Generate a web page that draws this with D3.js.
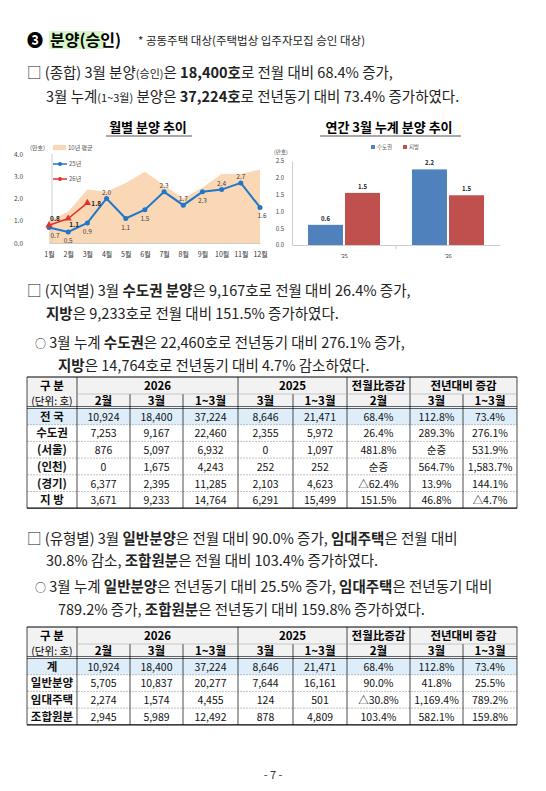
<!DOCTYPE html>
<html><head><meta charset="utf-8">
<script src="https://cdn.jsdelivr.net/npm/d3@7"></script>
<style>body{margin:0;background:#fff}svg{display:block}text{font-family:"Noto Sans CJK KR","Noto Sans",sans-serif}</style>
</head><body><svg id="s" width="546" height="791"></svg>
<script>
const months=["1월","2월","3월","4월","5월","6월","7월","8월","9월","10월","11월","12월"];
const avg10=[1.0,1.4,2.4,2.3,2.7,3.2,2.6,2.0,2.5,3.1,3.1,3.3];
const s25=[0.7,0.5,0.9,2.0,1.1,1.5,2.3,1.7,2.3,2.4,2.7,1.6];
const s26=[0.8,1.1,1.8];
const barYears=["'25","'26"];
const barCapital=[0.6,2.2];
const barLocal=[1.5,1.5];
const barCapH=[0.6,2.25], barLocH=[1.55,1.48];
const colHeads1=["구 분","2026","2025","전월比증감","전년대비 증감"];
const colHeads2=["(단위: 호)","2월","3월","1~3월","3월","1~3월","2월","3월","1~3월"];
const table1=[["전 국","10,924","18,400","37,224","8,646","21,471","68.4%","112.8%","73.4%"],
["수도권","7,253","9,167","22,460","2,355","5,972","26.4%","289.3%","276.1%"],
["(서울)","876","5,097","6,932","0","1,097","481.8%","순증","531.9%"],
["(인천)","0","1,675","4,243","252","252","순증","564.7%","1,583.7%"],
["(경기)","6,377","2,395","11,285","2,103","4,623","△62.4%","13.9%","144.1%"],
["지 방","3,671","9,233","14,764","6,291","15,499","151.5%","46.8%","△4.7%"]];
const table2=[["계","10,924","18,400","37,224","8,646","21,471","68.4%","112.8%","73.4%"],
["일반분양","5,705","10,837","20,277","7,644","16,161","90.0%","41.8%","25.5%"],
["임대주택","2,274","1,574","4,455","124","501","△30.8%","1,169.4%","789.2%"],
["조합원분","2,945","5,989","12,492","878","4,809","103.4%","582.1%","159.8%"]];

const svg=d3.select("#s");
function txt(x,y,t,o={}){const e=svg.append("text").attr("x",x).attr("y",y).attr("font-size",o.fs||14).attr("fill",o.fill||"#222").attr("text-anchor",o.a||"start");if(o.b)e.attr("font-weight","bold");e.html(t);return e;}

svg.append("rect").attr("x",49).attr("y",31).attr("width",55).attr("height",18).attr("fill","#d6f5c8");
txt(27,46,"❸",{fs:16,b:1,fill:"#000"});
txt(50,46,"분양(승인)",{fs:16,b:1,fill:"#000"});
txt(138,45,"* 공동주택 대상(주택법상 입주자모집 승인 대상)",{fs:11.5});
const P=14.5;
txt(27,78,'□ (종합) 3월 분양<tspan font-size="11">(승인)</tspan>은 <tspan font-weight="bold">18,400호</tspan>로 전월 대비 68.4% 증가,',{fs:P});
txt(46,102,'3월 누계<tspan font-size="11">(1~3월)</tspan> 분양은 <tspan font-weight="bold">37,224호</tspan>로 전년동기 대비 73.4% 증가하였다.',{fs:P});

txt(148,132,"월별 분양 추이",{fs:13,b:1,a:"middle",fill:"#000"});
svg.append("line").attr("x1",106).attr("x2",192).attr("y1",136).attr("y2",136).attr("stroke","#555");
const x=d3.scalePoint().domain(months).range([49,260]);
const y=d3.scaleLinear().domain([0,4]).range([243,154]);
svg.append("path").datum(avg10).attr("fill","#fad7b5").attr("d",d3.area().x((d,i)=>x(months[i])).y0(y(0)).y1(d=>y(d)));
const ya=svg.append("g").attr("transform","translate(49,0)").call(d3.axisLeft(y).tickValues([0,1,2,3,4]).tickFormat(d3.format(".1f")).tickSize(0).tickPadding(26));
ya.select(".domain").remove();ya.selectAll("text").attr("font-size",6.5).attr("fill","#444");
svg.append("line").attr("x1",52).attr("x2",52).attr("y1",154).attr("y2",243).attr("stroke","#ccc");
const xa=svg.append("g").attr("transform","translate(0,243)").call(d3.axisBottom(x).tickSize(0).tickPadding(9));
xa.select(".domain").attr("stroke","#ccc");xa.selectAll("text").attr("font-size",7).attr("fill","#333");
const ln=d3.line().x((d,i)=>x(months[i])).y(d=>y(d));
svg.append("path").datum(s25).attr("fill","none").attr("stroke","#1f77c9").attr("stroke-width",2).attr("d",ln);
svg.selectAll(".p25").data(s25).join("circle").attr("cx",(d,i)=>x(months[i])).attr("cy",d=>y(d)).attr("r",2.5).attr("fill","#1f77c9");
svg.append("path").datum(s26).attr("fill","none").attr("stroke","#e8302a").attr("stroke-width",1.5).attr("d",ln);
svg.selectAll(".p26").data(s26).join("path").attr("d",d3.symbol(d3.symbolTriangle,22)).attr("transform",(d,i)=>`translate(${x(months[i])},${y(d)})`).attr("fill","#e8302a");
const lblBelow=[1,1,1,0,1,1,0,0,1,0,0,1];
s25.forEach((d,i)=>txt(x(months[i])+(i==0?6:i==11?2:0),y(d)+(lblBelow[i]?11:-4),d.toFixed(1),{fs:6.5,a:"middle",fill:"#444"}));
s26.forEach((d,i)=>txt(x(months[i])+(i==2?4:6),y(d)+(i==2?3:i==1?8:-4),d.toFixed(1),{fs:6.5,b:1,a:i==2?"start":"middle",fill:"#222"}));
txt(30,150,"(만호)",{fs:6,fill:"#555"});
svg.append("rect").attr("x",53).attr("y",145).attr("width",13).attr("height",5).attr("fill","#fad7b5");
txt(68,150,"10년 평균",{fs:6,fill:"#555"});
[["25년","#1f77c9",164],["26년","#e8302a",179]].forEach(([t,c,yy])=>{svg.append("line").attr("x1",53).attr("x2",67).attr("y1",yy).attr("y2",yy).attr("stroke",c).attr("stroke-width",1.5);svg.append("circle").attr("cx",60).attr("cy",yy).attr("r",2).attr("fill",c);txt(69,yy+2,t,{fs:6,fill:"#555"});});

txt(389,132,"연간 3월 누계 분양 추이",{fs:13,b:1,a:"middle",fill:"#000"});
svg.append("line").attr("x1",320).attr("x2",461).attr("y1",136).attr("y2",136).attr("stroke","#555");
const bx=d3.scaleBand().domain(barYears).range([292,500]);
const by=d3.scaleLinear().domain([0,2.5]).range([245,161]);
const byA=svg.append("g").attr("transform","translate(292,0)").call(d3.axisLeft(by).tickValues([0,0.5,1,1.5,2,2.5]).tickFormat(d3.format(".1f")).tickSize(0).tickPadding(8));
byA.select(".domain").attr("stroke","#ccc");byA.selectAll("text").attr("font-size",6).attr("fill","#444");
const bxA=svg.append("g").attr("transform","translate(0,245)").call(d3.axisBottom(bx).tickSize(0).tickPadding(9));
bxA.select(".domain").attr("stroke","#ccc");bxA.selectAll("text").attr("font-size",5.5).attr("fill","#444");
svg.append("line").attr("x1",396).attr("x2",396).attr("y1",245).attr("y2",249).attr("stroke","#ccc");
const bw=35;
barYears.forEach((yr,i)=>{const c=bx(yr)+bx.bandwidth()/2;
 svg.append("rect").attr("x",c-bw-1).attr("y",by(barCapH[i])).attr("width",bw).attr("height",by(0)-by(barCapH[i])).attr("fill","#4f81bd");
 svg.append("rect").attr("x",c+1).attr("y",by(barLocH[i])).attr("width",bw).attr("height",by(0)-by(barLocH[i])).attr("fill","#c0504d");
 txt(c-bw/2-1,by(barCapH[i])-4,barCapital[i].toFixed(1),{fs:6,b:1,a:"middle"});
 txt(c+bw/2+1,by(barLocH[i])-4,barLocal[i].toFixed(1),{fs:6,b:1,a:"middle"});
});
txt(274,154,"(만호)",{fs:5.5,fill:"#555"});
svg.append("rect").attr("x",371).attr("y",145).attr("width",4).attr("height",4).attr("fill","#4f81bd");txt(377,149,"수도권",{fs:5.5,fill:"#555"});
svg.append("rect").attr("x",403).attr("y",145).attr("width",4).attr("height",4).attr("fill","#c0504d");txt(409,149,"지방",{fs:5.5,fill:"#555"});

txt(27,296,'□ (지역별) 3월 <tspan font-weight="bold">수도권 분양</tspan>은 9,167호로 전월 대비 26.4% 증가,',{fs:P});
txt(46,319,'<tspan font-weight="bold">지방</tspan>은 9,233호로 전월 대비 151.5% 증가하였다.',{fs:P});
txt(35,348,'<tspan font-size="11">○</tspan> 3월 누계 <tspan font-weight="bold">수도권</tspan>은 22,460호로 전년동기 대비 276.1% 증가,',{fs:P});
txt(58,371,'<tspan font-weight="bold">지방</tspan>은 14,764호로 전년동기 대비 4.7% 감소하였다.',{fs:P});

const cols=[27,77,130,183,238,293,347,410,463,517];
function table(top,data,h1,h2,rh){
 const g=svg.append("g");
 g.append("rect").attr("x",27).attr("y",top).attr("width",490).attr("height",h1+h2).attr("fill","#f2f2f2");
 g.append("rect").attr("x",27).attr("y",top+h1+h2).attr("width",490).attr("height",rh).attr("fill","#ddeefa");
 const spans=[[0,1],[1,4],[4,6],[6,7],[7,9]];
 spans.forEach(([a,b],i)=>txt((cols[a]+cols[b])/2,top+h1-4,colHeads1[i],{fs:11.5,b:1,a:"middle",fill:"#000"}));
 colHeads2.forEach((t,i)=>txt((cols[i]+cols[i+1])/2,top+h1+h2-3,t,{fs:i==0?10.5:11.5,b:i>0,a:"middle",fill:"#000"}));
 data.forEach((r,ri)=>{const yy=top+h1+h2+rh*(ri+1)-4;r.forEach((v,ci)=>txt((cols[ci]+cols[ci+1])/2,yy,v,{fs:ci==0?11.5:10.5,b:ci==0,a:"middle",fill:"#111"}));
  if(ri>0)g.append("line").attr("x1",27).attr("x2",517).attr("y1",yy-rh+4).attr("y2",yy-rh+4).attr("stroke","#999").attr("stroke-dasharray","2,1").attr("stroke-width",0.6);});
 const bot=top+h1+h2+rh*data.length;
 cols.forEach((c,i)=>{const inner=[2,3,5,8].includes(i);g.append("line").attr("x1",c).attr("x2",c).attr("y1",inner?top+h1:top).attr("y2",bot).attr("stroke","#000").attr("stroke-width",0.7);});
 g.append("line").attr("x1",77).attr("x2",517).attr("y1",top+h1).attr("y2",top+h1).attr("stroke","#999").attr("stroke-width",0.5);
 [top,bot].forEach(v=>g.append("line").attr("x1",27).attr("x2",517).attr("y1",v).attr("y2",v).attr("stroke","#000").attr("stroke-width",1.2));
 [top+h1+h2-1.5,top+h1+h2+0.5].forEach(v=>g.append("line").attr("x1",27).attr("x2",517).attr("y1",v).attr("y2",v).attr("stroke","#000").attr("stroke-width",0.6));
}
table(377,table1,17,14,16.7);

txt(27,544,'□ (유형별) 3월 <tspan font-weight="bold">일반분양</tspan>은 전월 대비 90.0% 증가, <tspan font-weight="bold">임대주택</tspan>은 전월 대비',{fs:P});
txt(46,566,'30.8% 감소, <tspan font-weight="bold">조합원분</tspan>은 전월 대비 103.4% 증가하였다.',{fs:P});
txt(35,592,'<tspan font-size="11">○</tspan> 3월 누계 <tspan font-weight="bold">일반분양</tspan>은 전년동기 대비 25.5% 증가, <tspan font-weight="bold">임대주택</tspan>은 전년동기 대비',{fs:P});
txt(58,615,'789.2% 증가, <tspan font-weight="bold">조합원분</tspan>은 전년동기 대비 159.8% 증가하였다.',{fs:P});
table(627,table2,17,14,16.7);

txt(273,779,"- 7 -",{fs:11,a:"middle",fill:"#333"});
</script></body></html>
